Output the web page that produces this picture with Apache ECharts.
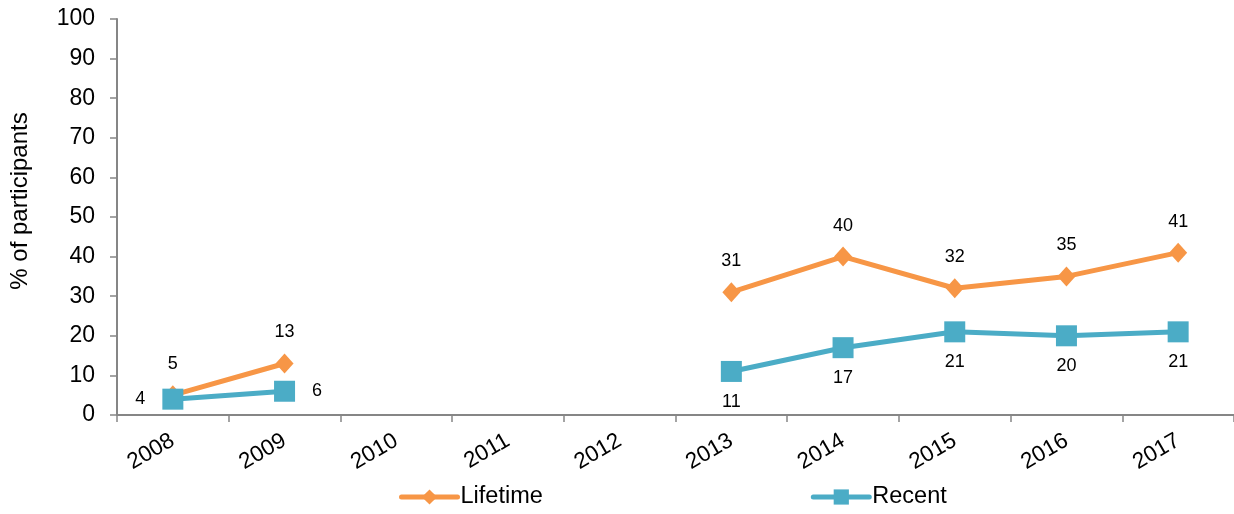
<!DOCTYPE html>
<html>
<head>
<meta charset="utf-8">
<style>
  html, body { margin: 0; padding: 0; background: #fff; }
  #chart { width: 1234px; height: 514px; }
</style>
<script src="https://cdn.jsdelivr.net/npm/echarts@6/dist/echarts.min.js"></script>
</head>
<body>
<div id="chart"></div>
<script>
// Survey years and the share of participants per series (no survey 2010-2012)
const years = ['2008', '2009', '2010', '2011', '2012', '2013', '2014', '2015', '2016', '2017'];
const lifetime = [5, 13, null, null, null, 31, 40, 32, 35, 41];
const recent = [4, 6, null, null, null, 11, 17, 21, 20, 21];
const yTicks = [0, 10, 20, 30, 40, 50, 60, 70, 80, 90, 100];

const ORANGE = '#F79646';
const BLUE = '#4BACC6';
const AXIS = '#868686';
const FONT = 'Liberation Sans, Arial, sans-serif';

// Recent labels sit below the points, except the early years which go sideways
const recentSide = { 0: 'left', 1: 'right' };
const recentData = recent.map((v, i) => {
  if (v === null) return null;
  const pos = recentSide[i];
  return pos ? { value: v, label: { position: pos, distance: 17 } } : v;
});

const chart = echarts.init(document.getElementById('chart'), null, { renderer: 'canvas' });
chart.setOption({
  animation: false,
  textStyle: { fontFamily: FONT },
  grid: { left: 115, right: 0, top: 19, bottom: 99, containLabel: false },
  legend: {
    bottom: 0,
    left: 394,
    itemGap: 268,
    itemWidth: 56,
    itemHeight: 19,
    lineStyle: { width: 5, cap: 'round' },
    textStyle: { fontSize: 23.5, color: '#000', fontFamily: FONT, padding: [0, 0, 0, -2] },
    data: ['Lifetime', 'Recent']
  },
  xAxis: {
    type: 'category',
    data: years,
    boundaryGap: true,
    axisLine: { lineStyle: { color: AXIS, width: 2 } },
    axisTick: { show: true, length: 7, alignWithLabel: false, lineStyle: { color: AXIS, width: 1.5 } },
    axisLabel: { rotate: 30, fontSize: 22.5, color: '#000', margin: 24, fontFamily: FONT },
    splitLine: { show: false }
  },
  yAxis: {
    type: 'value',
    min: yTicks[0],
    max: yTicks[yTicks.length - 1],
    interval: 10,
    name: '% of participants',
    nameLocation: 'middle',
    nameGap: 85,
    nameRotate: 90,
    nameTextStyle: { fontSize: 24, color: '#000', fontFamily: FONT, padding: [0, 0, 0, 32] },
    axisLine: { show: true, lineStyle: { color: AXIS, width: 2 } },
    axisTick: { show: true, length: 7, lineStyle: { color: AXIS, width: 1.5 } },
    axisLabel: { fontSize: 23, color: '#000', margin: 22, fontFamily: FONT },
    splitLine: { show: false }
  },
  series: [
    {
      name: 'Lifetime',
      type: 'line',
      data: lifetime,
      connectNulls: false,
      symbol: 'diamond',
      symbolSize: [18, 20],
      color: ORANGE,
      lineStyle: { width: 5, color: ORANGE },
      itemStyle: { color: ORANGE },
      label: { show: true, position: 'top', distance: 12, fontSize: 18, color: '#000', fontFamily: FONT },
      z: 2
    },
    {
      name: 'Recent',
      type: 'line',
      data: recentData,
      connectNulls: false,
      symbol: 'rect',
      symbolSize: 21,
      color: BLUE,
      lineStyle: { width: 5, color: BLUE },
      itemStyle: { color: BLUE },
      label: { show: true, position: 'bottom', distance: 11, fontSize: 18, color: '#000', fontFamily: FONT },
      z: 3
    }
  ]
});
</script>
</body>
</html>
